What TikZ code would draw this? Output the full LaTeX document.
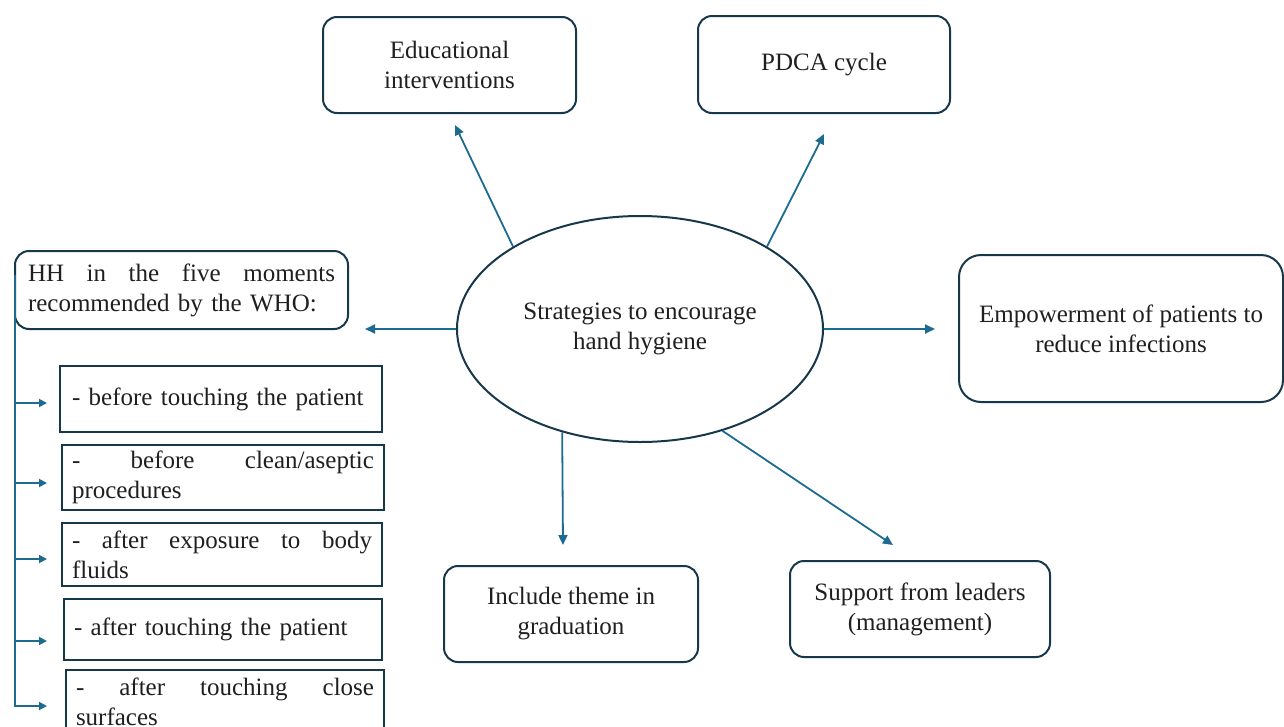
\documentclass[tikz,border=0pt]{standalone}
\usepackage{fontspec}
\setmainfont{Liberation Serif}
\usetikzlibrary{arrows.meta,shapes.geometric}
\definecolor{boxc}{HTML}{17384A}
\definecolor{arrc}{HTML}{1E6B90}
\definecolor{txtc}{HTML}{1F1F1F}
\begin{document}
\begin{tikzpicture}[x=1pt,y=-1pt,
  every node/.style={font=\fontsize{25}{30}\selectfont, text=txtc},
  rbox/.style={draw=boxc, line width=2pt, rounded corners=14pt, align=center, inner sep=0pt},
  sbox/.style={draw=boxc, line width=2pt, align=left, inner ysep=0pt},
  arr/.style={draw=arrc, line width=1.8pt, -{Triangle[length=10pt,width=9pt]}},
  brk/.style={draw=arrc, line width=1.8pt, -{Triangle[length=8pt,width=8pt]}},
]
\useasboundingbox (0,0) rectangle (1284,726);
\clip (0,0) rectangle (1284,726);

% central ellipse
\node[draw=boxc, line width=2pt, ellipse, minimum width=366pt, minimum height=226pt,
      inner sep=0pt, align=center] (c) at (640,329) {Strategies to encourage\\hand hygiene};

% outer boxes
\node[rbox, minimum width=253pt, minimum height=96pt] (edu) at (449.5,65) {Educational\\interventions};
\node[rbox, minimum width=252pt, minimum height=97pt] (pdca) at (824,64.5) {PDCA cycle};
\node[rbox, rounded corners=22pt, minimum width=324pt, minimum height=147pt] (emp) at (1121,328.5) {Empowerment of patients to\\reduce infections};
\node[rbox, minimum width=254pt, minimum height=96pt] (inc) at (571,614) {Include theme in\\graduation};
\node[rbox, minimum width=260pt, minimum height=96pt] (sup) at (920,609) {Support from leaders\\(management)};
\node[draw=boxc, line width=2pt, rounded corners=14pt, align=left, inner xsep=13pt, inner ysep=0pt,
      text width=307pt, minimum height=78pt] (hh) at (181.5,290)
      {HH\hfill in\hfill the\hfill five\hfill moments\\recommended by the WHO:};

% the five moments
\node[sbox, inner xsep=12pt, text width=298pt, minimum height=66pt] (b1) at (221,399) {- before touching the patient};
\node[sbox, inner xsep=10pt, text width=302pt, minimum height=65pt] (b2) at (223,477.5) {-\hfill before\hfill clean/aseptic\\procedures};
\node[sbox, inner xsep=10pt, text width=300pt, minimum height=63pt] (b3) at (222,554.5) {-\hfill after\hfill exposure\hfill to\hfill body\\fluids};
\node[sbox, inner xsep=10pt, text width=298pt, minimum height=61pt] (b4) at (223,629.5) {- after touching the patient};
\node[sbox, inner xsep=10pt, text width=298pt, minimum height=64pt] (b5) at (225,702) {-\hfill after\hfill touching\hfill close\\surfaces};

% arrow ends
\coordinate (eu) at (455,125);
\coordinate (pu) at (824,134);
\coordinate (hl) at (365,329);
\coordinate (er) at (935,329);
\coordinate (id) at (563,545);
\coordinate (sd) at (893,545);

\draw[arr] (c.147.9) -- (eu);
\draw[arr] (c.33.9) -- (pu);
\draw[arr] (c.west) -- (hl);
\draw[arr] (c.east) -- (er);
\draw[arr] (c.233.2) -- (id);
\draw[arr] (c.-51.9) -- (sd);

% bracket from the HH box
\coordinate (vtop) at (15,275);
\coordinate (t1) at (47,403);
\coordinate (t2) at (47,483);
\coordinate (t3) at (47,559);
\coordinate (t4) at (47,641);
\coordinate (t5) at (47,706);
\draw[brk] (vtop) |- (t1);
\draw[brk] (vtop) |- (t2);
\draw[brk] (vtop) |- (t3);
\draw[brk] (vtop) |- (t4);
\draw[brk] (vtop) |- (t5);
\end{tikzpicture}
\end{document}
